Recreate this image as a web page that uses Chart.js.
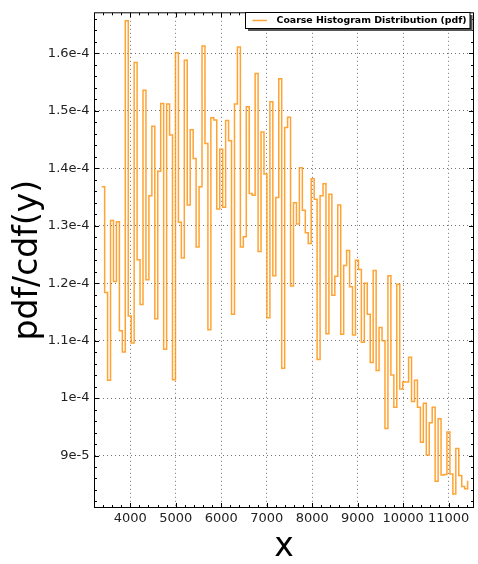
<!DOCTYPE html>
<html><head><meta charset="utf-8">
<script src="https://cdn.jsdelivr.net/npm/chart.js@4.4.1/dist/chart.umd.min.js"></script>
<style>html,body{margin:0;padding:0;background:#fff}#wrap{width:478px;height:564px;position:relative}</style>
</head><body><div id="wrap"><canvas id="c" width="478" height="564"></canvas></div>
<script>
const seriesLabel = 'Coarse Histogram Distribution (pdf)';
const xTitle = 'x';
const yTitle = 'pdf/cdf(y)';
const binStart = 3371;
const binWidth = 64.9;
const pdfValues = [
 1.368e-4,1.184e-4,1.031e-4,1.309e-4,1.203e-4,1.307e-4,1.117e-4,1.080e-4,1.657e-4,1.143e-4,
 1.096e-4,1.584e-4,1.241e-4,1.163e-4,1.536e-4,1.206e-4,1.352e-4,1.473e-4,1.138e-4,1.395e-4,
 1.513e-4,1.085e-4,1.512e-4,1.458e-4,1.032e-4,1.601e-4,1.306e-4,1.244e-4,1.588e-4,1.336e-4,
 1.467e-4,1.417e-4,1.263e-4,1.368e-4,1.613e-4,1.443e-4,1.119e-4,1.488e-4,1.484e-4,1.329e-4,
 1.433e-4,1.332e-4,1.483e-4,1.448e-4,1.146e-4,1.512e-4,1.611e-4,1.263e-4,1.281e-4,1.507e-4,
 1.356e-4,1.353e-4,1.565e-4,1.255e-4,1.463e-4,1.390e-4,1.140e-4,1.516e-4,1.213e-4,1.349e-4,
 1.556e-4,1.052e-4,1.471e-4,1.489e-4,1.195e-4,1.340e-4,1.303e-4,1.401e-4,1.327e-4,1.288e-4,
 1.269e-4,1.382e-4,1.346e-4,1.067e-4,1.352e-4,1.373e-4,1.112e-4,1.355e-4,1.179e-4,1.212e-4,
 1.336e-4,1.111e-4,1.231e-4,1.257e-4,1.194e-4,1.110e-4,1.240e-4,1.224e-4,1.097e-4,1.200e-4,
 1.146e-4,1.062e-4,1.222e-4,1.048e-4,1.123e-4,1.100e-4,0.947e-4,1.213e-4,1.040e-4,0.984e-4,
 1.198e-4,1.016e-4,1.028e-4,1.028e-4,1.071e-4,0.994e-4,1.031e-4,0.984e-4,0.923e-4,0.991e-4,
 0.901e-4,0.957e-4,0.984e-4,0.855e-4,0.964e-4,0.866e-4,0.867e-4,0.941e-4,0.868e-4,0.833e-4,
 0.912e-4,0.865e-4,0.846e-4,0.842e-4,0.856e-4
];
const xTickValues = [4000,5000,6000,7000,8000,9000,10000,11000];
const yTickValues = [9e-5,1.0e-4,1.1e-4,1.2e-4,1.3e-4,1.4e-4,1.5e-4,1.6e-4];
const xRange = [3213, 11548];
const yRange = [0.8095e-4, 1.6707e-4];

const lineColor = 'rgba(255,140,0,0.8)';
const points = pdfValues.map((v, i) => ({x: binStart + i * binWidth, y: v}));

function fmtY(v){
  const n = Math.round(v * 1e5);
  if (n >= 10) { return (n / 10) + 'e-4'; }
  return n + 'e-5';
}

const frameTicks = {
  id: 'frameTicks',
  afterDraw(chart){
    const {ctx, chartArea: a} = chart;
    const xs = chart.scales.x, ys = chart.scales.y;
    ctx.save();
    ctx.strokeStyle = '#000';
    ctx.lineWidth = 1;
    ctx.beginPath();
    // x major & minor
    for (let v = Math.ceil(xs.min/200)*200; v <= xs.max; v += 200){
      const p = Math.round(xs.getPixelForValue(v)) + 0.5;
      const len = (v % 1000 === 0) ? 4.5 : 2.5;
      ctx.moveTo(p, a.bottom); ctx.lineTo(p, a.bottom - len);
      ctx.moveTo(p, a.top); ctx.lineTo(p, a.top + len);
    }
    for (let k = Math.ceil(ys.min/2e-6); k*2e-6 <= ys.max; k++){
      const v = k*2e-6;
      const p = Math.round(ys.getPixelForValue(v)) + 0.5;
      const len = (k % 5 === 0) ? 4.5 : 2.5;
      ctx.moveTo(a.left, p); ctx.lineTo(a.left + len, p);
      ctx.moveTo(a.right, p); ctx.lineTo(a.right - len, p);
    }
    ctx.stroke();
    ctx.strokeRect(a.left, a.top, a.right - a.left, a.bottom - a.top);
    // legend
    const bx = 245.5, by = 12.5, bw = 224.5, bh = 16;
    ctx.fillStyle = '#555';
    ctx.fillRect(bx + 2.5, by + 2.5, bw, bh);
    ctx.fillStyle = '#fff';
    ctx.fillRect(bx, by, bw, bh);
    ctx.strokeStyle = '#000';
    ctx.strokeRect(bx, by, bw, bh);
    const ds = chart.data.datasets[0];
    ctx.strokeStyle = ds.borderColor;
    ctx.lineWidth = 1.5;
    ctx.beginPath(); ctx.moveTo(252.5, 20.5); ctx.lineTo(267, 20.5); ctx.stroke();
    ctx.fillStyle = '#000';
    ctx.font = 'bold 9.4px "DejaVu Sans"';
    ctx.textBaseline = 'middle';
    ctx.textAlign = 'left';
    ctx.fillText(ds.label, 276.5, 21);
    ctx.restore();
  }
};

new Chart(document.getElementById('c'), {
  type: 'line',
  data: {datasets: [{
    label: seriesLabel, data: points, stepped: 'before',
    borderColor: lineColor, borderWidth: 1.5, pointRadius: 0, fill: false, tension: 0
  }]},
  options: {
    responsive: false, animation: false, devicePixelRatio: 1,
    layout: {padding: {left: 0, right: 4.5, top: 7.5, bottom: 0}},
    plugins: {legend: {display: false}, tooltip: {enabled: false}},
    scales: {
      x: {
        type: 'linear', min: xRange[0], max: xRange[1],
        afterBuildTicks: s => { s.ticks = xTickValues.map(v => ({value: v})); },
        afterFit: s => { s.height = 56.5; },
        ticks: {color: '#222', font: {family: 'DejaVu Sans', size: 13}, padding: 3, maxRotation: 0, autoSkip: false,
                callback: v => String(v)},
        grid: {color: 'rgba(0,0,0,0.55)', lineWidth: 1, drawTicks: false},
        border: {display: false, dash: [1, 3]},
        title: {display: true, text: xTitle, color: '#000', font: {family: 'DejaVu Sans', size: 33, lineHeight: 1}, padding: {top: 0, bottom: 0}}
      },
      y: {
        type: 'linear', min: yRange[0], max: yRange[1],
        afterBuildTicks: s => { s.ticks = yTickValues.map(v => ({value: v})); },
        afterFit: s => { s.width = 94.5; },
        ticks: {color: '#222', font: {family: 'DejaVu Sans', size: 13}, padding: 5, autoSkip: false,
                callback: v => fmtY(v)},
        grid: {color: 'rgba(0,0,0,0.55)', lineWidth: 1, drawTicks: false},
        border: {display: false, dash: [1, 3]},
        title: {display: true, text: yTitle, color: '#000', font: {family: 'DejaVu Sans', size: 33, lineHeight: 1}, padding: {top: 11.5, bottom: 0}}
      }
    }
  },
  plugins: [frameTicks]
});
</script>
</body></html>
